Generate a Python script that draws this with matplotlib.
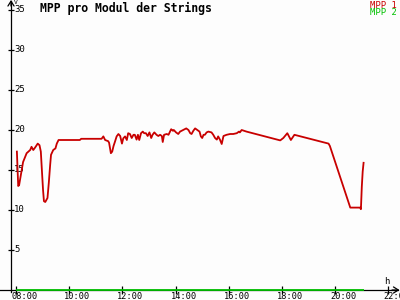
import numpy as np
import matplotlib
matplotlib.use('Agg')
import matplotlib.pyplot as plt
import matplotlib.transforms as mtransforms

# MPP 1 samples (time, V per module)
times = ['08:02', '08:05', '08:07', '08:16', '08:24', '08:32', '08:35', '08:39',
         '08:43', '08:49', '08:53', '08:56', '08:59', '09:01', '09:03', '09:06',
         '09:11', '09:14', '09:17', '09:19', '09:24', '09:29', '09:32', '09:36',
         '10:24', '10:27', '11:13', '11:17', '11:21', '11:28', '11:30', '11:34',
         '11:37', '11:40', '11:43', '11:47', '11:51', '11:55', '11:59', '12:02',
         '12:06', '12:10', '12:13', '12:17', '12:21', '12:25', '12:28', '12:32',
         '12:35', '12:38', '12:42', '12:46', '12:49', '12:53', '12:57', '13:01',
         '13:05', '13:08', '13:12', '13:17', '13:21', '13:25', '13:29', '13:31',
         '13:34', '13:40', '13:44', '13:50', '13:54', '13:56', '14:01', '14:06',
         '14:10', '14:17', '14:24', '14:29', '14:33', '14:36', '14:40', '14:44',
         '14:49', '14:54', '14:57', '15:00', '15:03', '15:06', '15:10', '15:14',
         '15:21', '15:25', '15:29', '15:33', '15:36', '15:40', '15:44', '15:48',
         '15:55', '16:03', '16:10', '16:18', '16:23', '16:25', '16:29', '16:40',
         '17:56', '18:03', '18:12', '18:20', '18:28', '19:45', '19:48', '20:34',
         '20:56', '20:58', '21:00', '21:02', '21:04']
mpp1 = [17.3, 13.0, 13.1, 16.0, 17.1, 17.5, 17.9, 17.5,
        17.8, 18.3, 18.1, 17.3, 14.4, 12.5, 11.1, 11.0,
        11.5, 13.4, 15.6, 16.9, 17.5, 17.7, 18.3, 18.75,
        18.75, 18.9, 18.9, 19.2, 18.75, 18.6, 18.4, 17.1,
        17.3, 18.0, 18.5, 19.2, 19.5, 19.25, 18.3, 18.96,
        19.2, 18.75, 19.6, 19.5, 19.0, 19.4, 19.4, 18.8,
        19.4, 18.75, 19.6, 19.8, 19.6, 19.6, 19.25, 19.7,
        19.0, 19.4, 19.7, 19.4, 19.25, 19.4, 19.25, 18.5,
        19.4, 19.5, 19.4, 20.1, 19.9, 20.0, 19.7, 19.5,
        19.8, 20.0, 20.2, 20.0, 19.6, 19.5, 19.9, 20.2,
        20.0, 19.8, 19.2, 19.0, 19.4, 19.4, 19.7, 19.8,
        19.7, 19.4, 19.0, 18.8, 19.2, 18.8, 18.25, 19.25,
        19.4, 19.5, 19.5, 19.6, 19.8, 19.7, 20.0, 19.8,
        18.7, 19.0, 19.6, 18.75, 19.4, 18.3, 18.0, 10.3,
        10.3, 10.1, 12.9, 14.8, 15.9]

# MPP 2 stays at zero all day
mpp2_times = ['08:00', '21:04']
mpp2 = [0.0, 0.0]

xticks = [8, 10, 12, 14, 16, 18, 20, 22]
xticklabels = ['08:00', '10:00', '12:00', '14:00', '16:00', '18:00', '20:00', '22:00']
yticks = [5, 10, 15, 20, 25, 30, 35]

red = '#c80000'
green = '#00c000'
bg = '#fdfdfd'
mono = 'DejaVu Sans Mono'


def hours(t):
    hh, mm = t.split(':')
    return int(hh) + int(mm) / 60.0


# pixel layout of the original picture
def px2h(x):
    return 8 + (x - 16) / 26.6


def py2v(y):
    return (290 - y) / 8.0


fig = plt.figure(figsize=(4, 3), dpi=100, facecolor=bg)
ax = fig.add_axes([0, 0, 1, 1])
ax.set_facecolor(bg)
ax.set_xlim(px2h(0), px2h(400))
ax.set_ylim(py2v(300), py2v(0))

# axes lines
ax.spines['top'].set_visible(False)
ax.spines['right'].set_visible(False)
ax.spines['left'].set_position(('data', px2h(11)))
ax.spines['bottom'].set_position(('data', 0))
ax.spines['left'].set_bounds(py2v(292), py2v(1))
ax.spines['bottom'].set_bounds(px2h(0), px2h(398))
for s in ('left', 'bottom'):
    ax.spines[s].set_linewidth(0.9)
ax.annotate('', xy=(px2h(11), py2v(0)), xytext=(px2h(11), py2v(6)),
            arrowprops=dict(arrowstyle='->,head_length=0.35,head_width=0.22',
                            lw=0.9, color='k', shrinkA=0, shrinkB=0))
ax.annotate('', xy=(px2h(399.5), 0), xytext=(px2h(392), 0),
            arrowprops=dict(arrowstyle='->,head_length=0.35,head_width=0.22',
                            lw=0.9, color='k', shrinkA=0, shrinkB=0))

ax.set_xticks(xticks)
ax.set_yticks(yticks)
ax.tick_params(axis='x', direction='inout', length=5.8, width=0.9,
               labelbottom=False)
ax.tick_params(axis='y', direction='inout', length=5.0, width=0.9,
               labelleft=False)

xlab_tr = mtransforms.offset_copy(ax.transData, fig=fig, x=-5, y=-2, units='dots')
for h, lab in zip(xticks, xticklabels):
    ax.text(h, 0, lab, transform=xlab_tr, ha='left', va='top',
            fontsize=6.2, family=mono, clip_on=False)
ylab_tr = mtransforms.offset_copy(ax.transData, fig=fig, x=3, y=0, units='dots')
for v in yticks:
    ax.text(px2h(11), v, str(v), transform=ylab_tr, ha='left', va='center',
            fontsize=6.5, family=mono)

# data
ax.plot([hours(t) for t in mpp2_times], mpp2, color=green, lw=1.3,
        solid_capstyle='butt', zorder=3)
ax.plot([hours(t) for t in times], mpp1, color=red, lw=1.3, zorder=4)

# texts
fig.text(40 / 400, 1 - 8 / 300, 'MPP pro Modul der Strings', ha='left',
         va='center', fontsize=8.3, fontweight='bold', family=mono)
fig.text(397 / 400, 1 - 5 / 300, 'MPP 1', ha='right', va='center',
         fontsize=6.4, family=mono, color=red)
fig.text(397 / 400, 1 - 12.5 / 300, 'MPP 2', ha='right', va='center',
         fontsize=6.4, family=mono, color=green)
fig.text(14 / 400, 1 - 3 / 300, 'V', ha='left', va='center',
         fontsize=4.5, family=mono)
fig.text(387 / 400, 1 - 281.5 / 300, 'h', ha='center', va='center',
         fontsize=6.5, family=mono)

fig.savefig('out.png', dpi=100, facecolor=bg)
